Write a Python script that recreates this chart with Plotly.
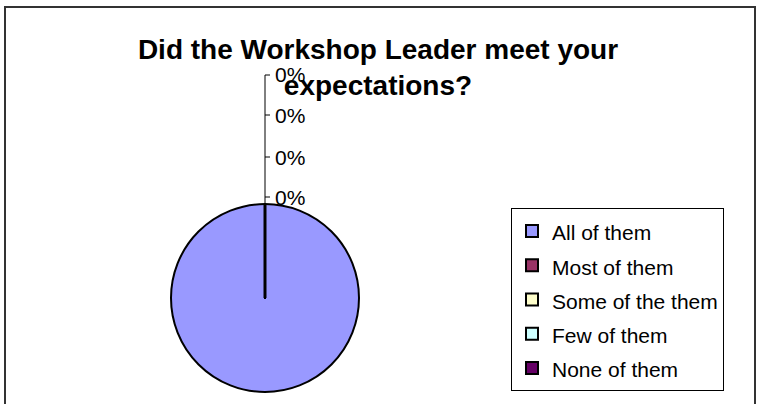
import plotly.graph_objects as go

# ---- data ----
categories = ["All of them", "Most of them", "Some of the them", "Few of them", "None of them"]
values = [100, 0, 0, 0, 0]
colors = ["#9999FF", "#993366", "#FFFFCC", "#CCFFFF", "#660066"]
title_text = "Did the Workshop Leader meet your<br>expectations?"

W, H = 757, 404
FONT = "Liberation Sans, Arial, sans-serif"


def px(x):
    return x / W


def py(y):
    return 1 - y / H


# pie geometry (pixels)
cx, cy, r = 265, 298, 94

fig = go.Figure()
fig.add_trace(go.Pie(
    labels=[f'<span style="font-size:21px">{c}</span>' for c in categories],
    values=values,
    marker=dict(colors=colors, line=dict(color="#000000", width=2)),
    sort=False,
    direction="clockwise",
    rotation=0,
    textinfo="none",
    hoverinfo="label+percent",
    domain=dict(x=[px(cx - r), px(cx + r)], y=[py(cy + r), py(cy - r)]),
))

total = sum(values)
zero_idx = [i for i, v in enumerate(values) if v == 0]
label_ys = [75, 115, 157, 197]

shapes = []
annotations = []
# radial line of the zero-width slices
shapes.append(dict(type="line", xref="paper", yref="paper",
                   x0=px(cx), y0=py(cy), x1=px(cx), y1=py(cy - r),
                   line=dict(color="#000000", width=3)))
# leader line
shapes.append(dict(type="line", xref="paper", yref="paper",
                   x0=px(cx), y0=py(cy - r), x1=px(cx), y1=py(label_ys[0]),
                   line=dict(color="#000000", width=1)))
for k, i in enumerate(zero_idx[:len(label_ys)]):
    ly = label_ys[k]
    shapes.append(dict(type="line", xref="paper", yref="paper",
                       x0=px(cx), y0=py(ly), x1=px(cx + 5), y1=py(ly),
                       line=dict(color="#000000", width=1)))
    annotations.append(dict(
        xref="paper", yref="paper", x=px(cx + 8), y=py(ly),
        xanchor="left", yanchor="middle", showarrow=False,
        text=f"{values[i] / total:.0%}",
        font=dict(family=FONT, size=21, color="#000000"),
    ))

# outer chart border
shapes.append(dict(type="rect", xref="paper", yref="paper",
                   x0=px(5), x1=px(755), y0=py(430), y1=py(7),
                   line=dict(color="#333333", width=2)))

fig.update_layout(
    width=W, height=H,
    margin=dict(l=0, r=0, t=0, b=0),
    paper_bgcolor="#FFFFFF",
    plot_bgcolor="#FFFFFF",
    title=dict(text=title_text, x=px(378), xanchor="center",
               y=py(59), yanchor="top",
               font=dict(family=FONT, size=28, color="#000000", weight="bold")),
    legend=dict(x=px(511), y=py(208), xanchor="left", yanchor="top",
                bordercolor="#000000", borderwidth=1, bgcolor="#FFFFFF",
                entrywidth=202,
                font=dict(family=FONT, size=24, color="#000000")),
    shapes=shapes,
    annotations=annotations,
)

fig.write_html("out.html", config={"displayModeBar": False},
               post_script="document.body.style.margin='0';")
